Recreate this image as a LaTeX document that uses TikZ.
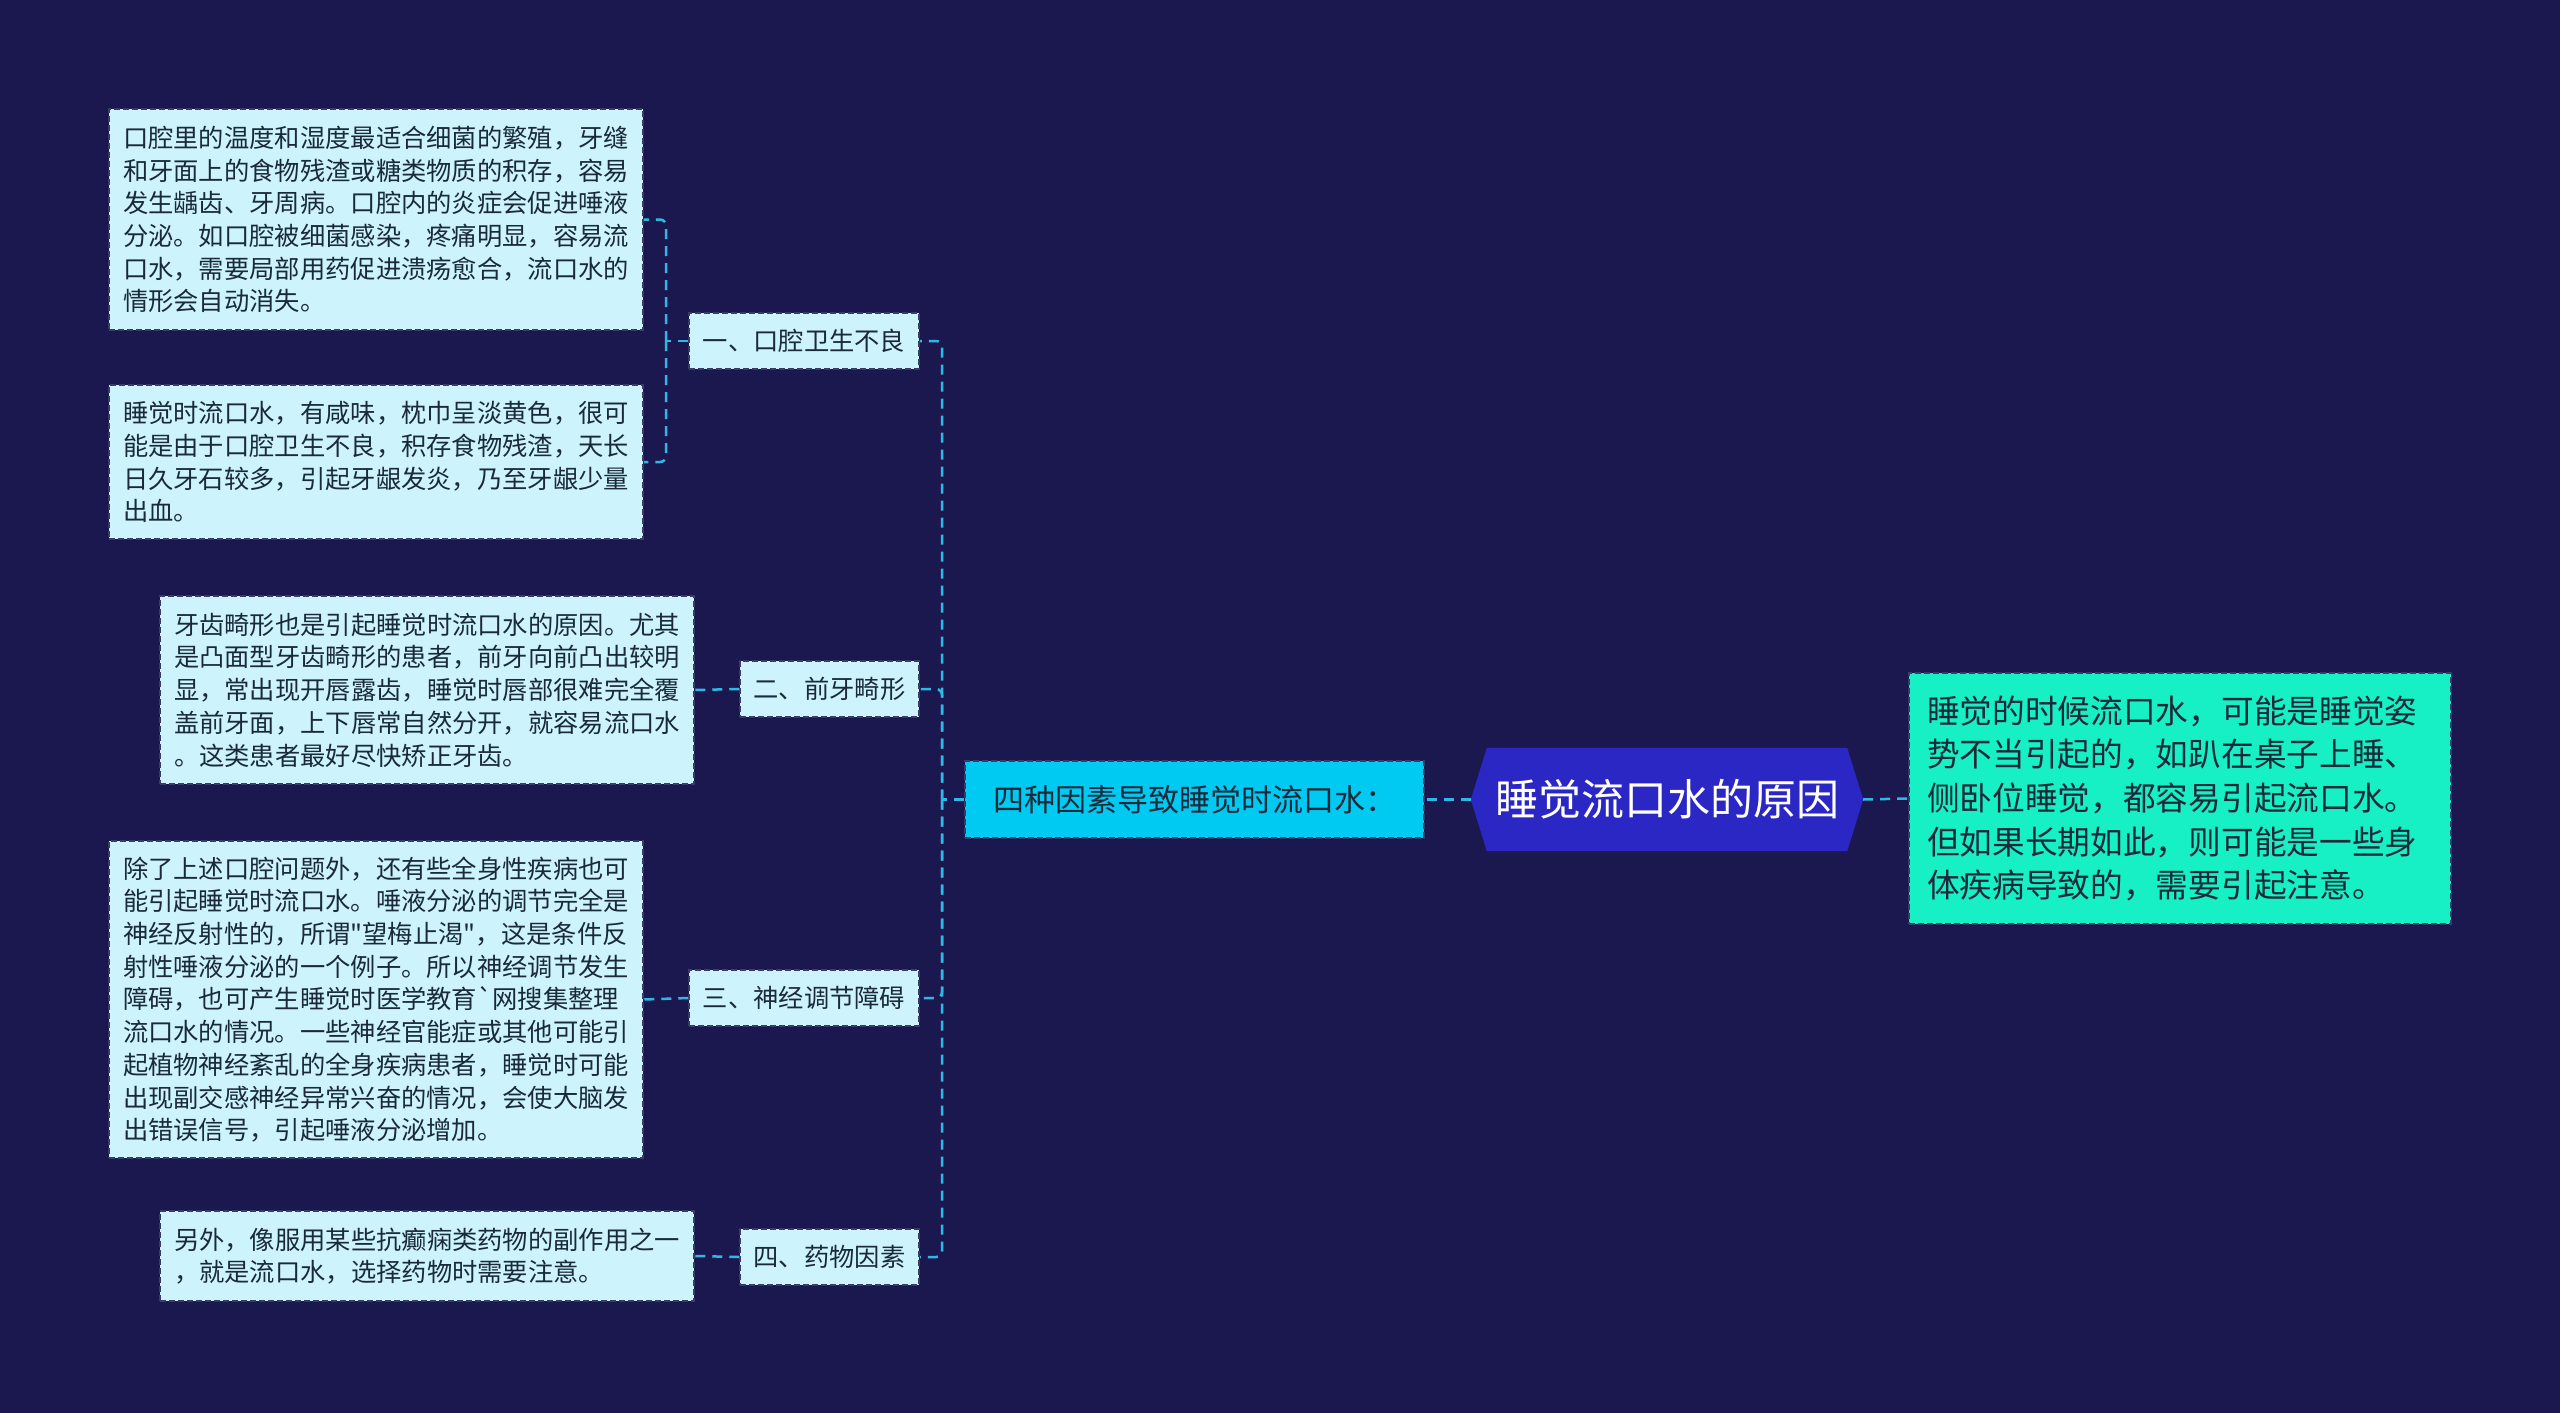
\documentclass[tikz,border=0pt]{standalone}
\usepackage{fontspec}
\newfontfamily\cjk{Noto Sans CJK SC}
\definecolor{bgc}{HTML}{1B1850}
\definecolor{leafc}{HTML}{CDF4FC}
\definecolor{midc}{HTML}{00C9F2}
\definecolor{rootc}{HTML}{2B27C4}
\definecolor{rightc}{HTML}{17F0C4}
\definecolor{linec}{HTML}{2FB8E6}
\definecolor{txtc}{HTML}{1A2A3A}
\definecolor{bordc}{HTML}{3A3C66}
\tikzset{
  box/.style={rectangle, draw=bordc, line width=1.5pt, dash pattern=on 6pt off 3pt,
    text=txtc, align=left, inner sep=0pt, anchor=center},
  leaf/.style={box, fill=leafc, minimum width=534pt, text width=506pt,
    font={\cjk\fontsize{25.3pt}{32.7pt}\selectfont}},
  branch/.style={box, fill=leafc, minimum height=56pt, align=center,
    font={\cjk\fontsize{25.3pt}{32.7pt}\selectfont}},
  conn/.style={draw=linec, line width=2.5pt, dash pattern=on 10pt off 7pt, rounded corners=6pt},
}
\begin{document}
\begin{tikzpicture}[x=1pt,y=-1pt]
\fill[bgc] (0,0) rectangle (2560,1413);
\useasboundingbox (0,0) rectangle (2560,1413);

% leaves
\node[leaf, minimum height=221pt] (l1) at (376,219.5) {口腔里的温度和湿度最适合细菌的繁殖，牙缝\\和牙面上的食物残渣或糖类物质的积存，容易\\发生龋齿、牙周病。口腔内的炎症会促进唾液\\分泌。如口腔被细菌感染，疼痛明显，容易流\\口水，需要局部用药促进溃疡愈合，流口水的\\情形会自动消失。};
\node[leaf, minimum height=154pt] (l2) at (376,462) {睡觉时流口水，有咸味，枕巾呈淡黄色，很可\\能是由于口腔卫生不良，积存食物残渣，天长\\日久牙石较多，引起牙龈发炎，乃至牙龈少量\\出血。};
\node[leaf, minimum height=188pt] (l3) at (427,690) {牙齿畸形也是引起睡觉时流口水的原因。尤其\\是凸面型牙齿畸形的患者，前牙向前凸出较明\\显，常出现开唇露齿，睡觉时唇部很难完全覆\\盖前牙面，上下唇常自然分开，就容易流口水\\。这类患者最好尽快矫正牙齿。};
\node[leaf, minimum height=317pt] (l4) at (376,999.5) {除了上述口腔问题外，还有些全身性疾病也可\\能引起睡觉时流口水。唾液分泌的调节完全是\\神经反射性的，所谓"望梅止渴"，这是条件反\\射性唾液分泌的一个例子。所以神经调节发生\\障碍，也可产生睡觉时医学教育`网搜集整理\\流口水的情况。一些神经官能症或其他可能引\\起植物神经紊乱的全身疾病患者，睡觉时可能\\出现副交感神经异常兴奋的情况，会使大脑发\\出错误信号，引起唾液分泌增加。};
\node[leaf, minimum height=90pt] (l5) at (427,1256) {另外，像服用某些抗癫痫类药物的副作用之一\\，就是流口水，选择药物时需要注意。};

% branches
\node[branch, minimum width=230pt] (b1) at (804,341) {一、口腔卫生不良};
\node[branch, minimum width=179pt] (b2) at (829.5,689) {二、前牙畸形};
\node[branch, minimum width=230pt] (b3) at (804,998) {三、神经调节障碍};
\node[branch, minimum width=179pt] (b4) at (829.5,1257) {四、药物因素};

% middle
\node[box, fill=midc, minimum width=459pt, minimum height=77pt, align=center,
  font={\cjk\fontsize{31pt}{36pt}\selectfont}] (mid) at (1194.5,799.5) {四种因素导致睡觉时流口水：};

% root hexagon
\node[minimum width=392pt, minimum height=103pt, inner sep=0pt] (root) at (1667,799.5) {};
\fill[rootc] (root.west) -- ([xshift=16pt]root.north west) -- ([xshift=-16pt]root.north east)
  -- (root.east) -- ([xshift=-16pt]root.south east) -- ([xshift=16pt]root.south west) -- cycle;
\node[text=white, font={\cjk\fontsize{43pt}{48pt}\selectfont}] (roottxt) at (root.center) {睡觉流口水的原因};

% right box
\node[box, fill=rightc, minimum width=542pt, minimum height=251pt, text width=506pt,
  font={\cjk\fontsize{32.7pt}{43.7pt}\selectfont}] (rb) at (2180,798.5) {睡觉的时候流口水，可能是睡觉姿\\势不当引起的，如趴在桌子上睡、\\侧卧位睡觉，都容易引起流口水。\\但如果长期如此，则可能是一些身\\体疾病导致的，需要引起注意。};

% connectors
\coordinate (t) at (942,799.5);
\coordinate (t1) at (666,341);
\draw[conn] (root.west) -- (mid.east);
\draw[conn] (root.east) -- (rb.west);
\draw[conn] (mid.west) -- (t);
\draw[conn] (t) |- (b1.east);
\draw[conn] (t) |- (b2.east);
\draw[conn] (t) |- (b3.east);
\draw[conn] (t) |- (b4.east);
\draw[conn] (b1.west) -- (t1);
\draw[conn] (t1) |- (l1.east);
\draw[conn] (t1) |- (l2.east);
\draw[conn] (b2.west) -- (l3.east);
\draw[conn] (b3.west) -- (l4.east);
\draw[conn] (b4.west) -- (l5.east);
\end{tikzpicture}
\end{document}
